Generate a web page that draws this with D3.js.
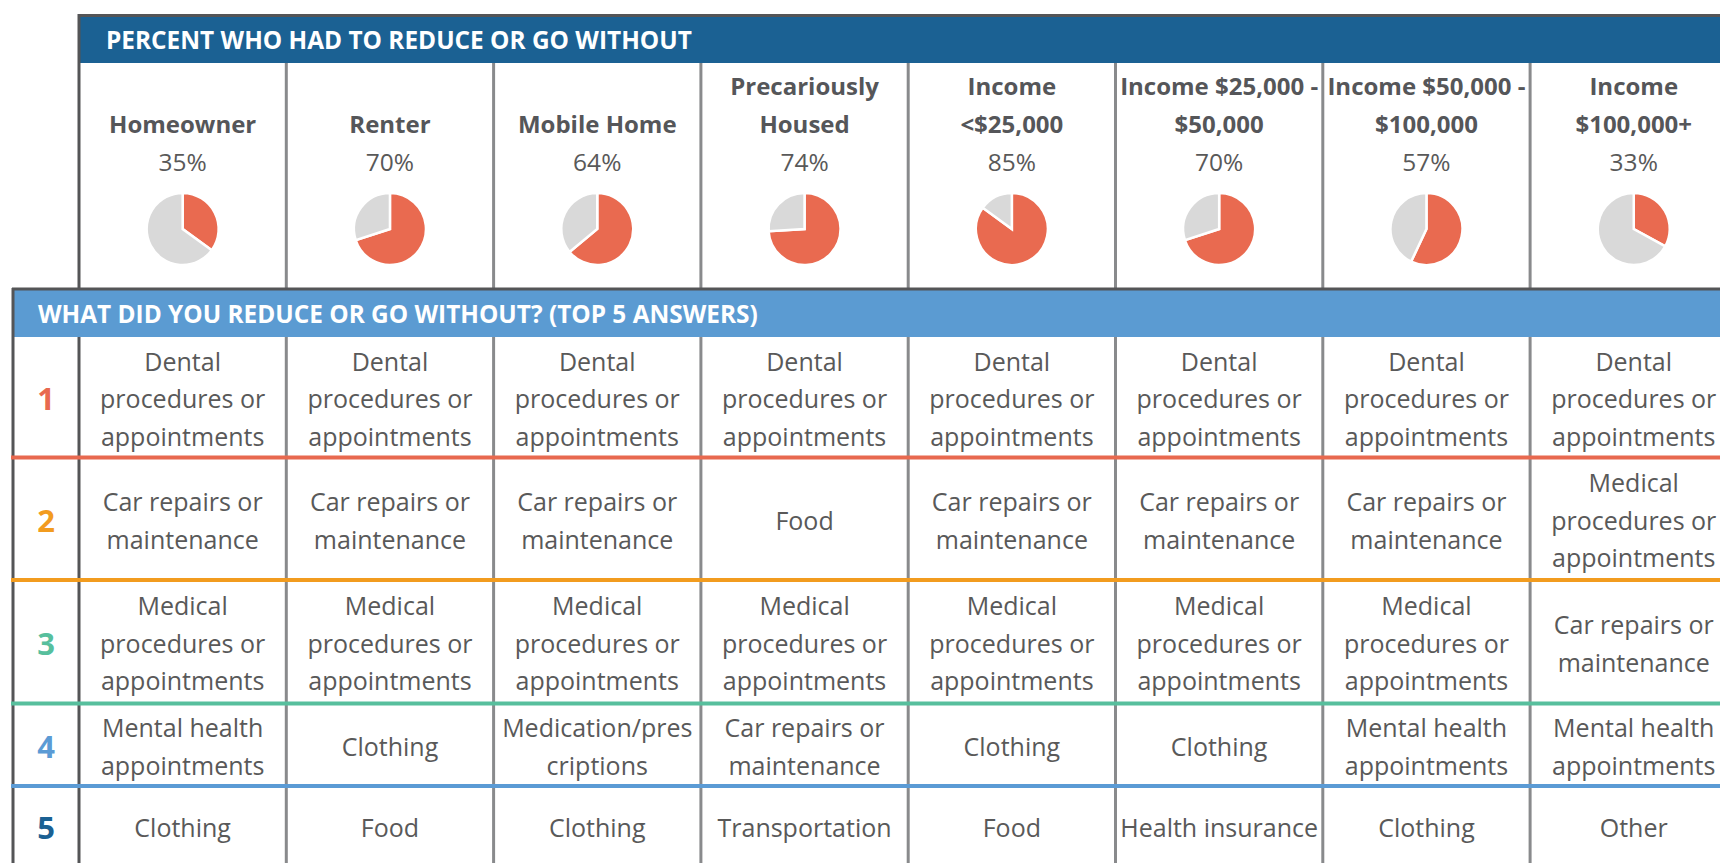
<!DOCTYPE html>
<html><head><meta charset="utf-8">
<script src="https://cdn.jsdelivr.net/npm/d3@7"></script>
<style>html,body{margin:0;padding:0;background:#fff;overflow:hidden}svg{display:block}</style>
</head><body><svg id="c" width="1720" height="863"></svg>
<script>
// ---------- DATA ----------
const title1 = "PERCENT WHO HAD TO REDUCE OR GO WITHOUT";
const title2 = "WHAT DID YOU REDUCE OR GO WITHOUT? (TOP 5 ANSWERS)";
const groups = ["Homeowner", "Renter", "Mobile Home", "Precariously|Housed", "Income|<$25,000",
                "Income $25,000 -|$50,000", "Income $50,000 -|$100,000", "Income|$100,000+"];
const percents = [35, 70, 64, 74, 85, 70, 57, 33];
const ranks = [1, 2, 3, 4, 5];
const answersRank1 = ["Dental|procedures or|appointments", "Dental|procedures or|appointments", "Dental|procedures or|appointments", "Dental|procedures or|appointments",
                      "Dental|procedures or|appointments", "Dental|procedures or|appointments", "Dental|procedures or|appointments", "Dental|procedures or|appointments"];
const answersRank2 = ["Car repairs or|maintenance", "Car repairs or|maintenance", "Car repairs or|maintenance", "Food",
                      "Car repairs or|maintenance", "Car repairs or|maintenance", "Car repairs or|maintenance", "Medical|procedures or|appointments"];
const answersRank3 = ["Medical|procedures or|appointments", "Medical|procedures or|appointments", "Medical|procedures or|appointments", "Medical|procedures or|appointments",
                      "Medical|procedures or|appointments", "Medical|procedures or|appointments", "Medical|procedures or|appointments", "Car repairs or|maintenance"];
const answersRank4 = ["Mental health|appointments", "Clothing", "Medication/pres|criptions", "Car repairs or|maintenance",
                      "Clothing", "Clothing", "Mental health|appointments", "Mental health|appointments"];
const answersRank5 = ["Clothing", "Food", "Clothing", "Transportation", "Food", "Health insurance", "Clothing", "Other"];
const answers = [answersRank1, answersRank2, answersRank3, answersRank4, answersRank5];

// ---------- STYLE / LAYOUT ----------
const W = 1720, H = 863;
const colW = 207.3, colX0 = 79;
const rankColors = ["#e8694f", "#f29c1f", "#57bf9d", "#5b9bd5", "#1b6193"];
const darkBlue = "#1b6193", lightBlue = "#5b9bd2";
const red = "#e96a50", grey = "#d9d9d9";
const textCol = "#595959", headCol = "#555659";
const borderCol = "#545557", divCol = "#898a8c";
const rowEdges = [337, 457.5, 580, 703.5, 786, 866];
const font = "'Open Sans', 'Noto Sans', sans-serif";

const svg = d3.select("#c");
const x = d3.scaleBand().domain(groups).range([colX0, colX0 + colW * groups.length]).padding(0);
const yRow = d3.scaleOrdinal().domain(ranks).range(ranks.map((r, i) => [rowEdges[i], rowEdges[i + 1]]));

// ---------- TOP SECTION ----------
svg.append("rect").attr("x", 80).attr("y", 16).attr("width", W - 80).attr("height", 47).attr("fill", darkBlue);
svg.append("text").attr("x", 106).attr("y", 39).attr("dominant-baseline", "central")
  .attr("fill", "#fff").attr("font-family", font).attr("font-weight", 700).attr("font-size", 24.4)
  .text(title1);

// column dividers top
svg.selectAll("line.dtop").data(groups.slice(1)).enter().append("line")
  .attr("x1", d => x(d)).attr("x2", d => x(d)).attr("y1", 63).attr("y2", 289)
  .attr("stroke", divCol).attr("stroke-width", 3);

// group headers
const lineH = 37.7;
groups.forEach((g, i) => {
  const lines = g.split("|");
  const cx = x(g) + x.bandwidth() / 2;
  lines.forEach((ln, j) => {
    svg.append("text").attr("x", cx).attr("y", 123 - (lines.length - 1 - j) * lineH)
      .attr("text-anchor", "middle").attr("dominant-baseline", "central")
      .attr("fill", headCol).attr("font-family", font).attr("font-weight", 700).attr("font-size", 24)
      .text(ln);
  });
  svg.append("text").attr("x", cx).attr("y", 161)
    .attr("text-anchor", "middle").attr("dominant-baseline", "central")
    .attr("fill", textCol).attr("font-family", font).attr("font-size", 24.5)
    .text(percents[i] + "%");
  const pie = d3.pie().sort(null)([percents[i], 100 - percents[i]]);
  const arc = d3.arc().innerRadius(0).outerRadius(36);
  svg.append("g").attr("transform", `translate(${cx},229)`)
    .selectAll("path").data(pie).enter().append("path")
    .attr("d", arc).attr("fill", (d, k) => k === 0 ? red : grey)
    .attr("stroke", "#fff").attr("stroke-width", 2.5).attr("stroke-linejoin", "miter");
});

// top borders
svg.append("line").attr("x1", 78).attr("x2", W).attr("y1", 15.5).attr("y2", 15.5).attr("stroke", borderCol).attr("stroke-width", 3);
svg.append("line").attr("x1", 79).attr("x2", 79).attr("y1", 14).attr("y2", 290).attr("stroke", borderCol).attr("stroke-width", 3);

// ---------- BOTTOM SECTION ----------
svg.append("rect").attr("x", 14).attr("y", 290).attr("width", W - 14).attr("height", 47).attr("fill", lightBlue);
svg.append("text").attr("x", 38).attr("y", 313.5).attr("dominant-baseline", "central")
  .attr("fill", "#fff").attr("font-family", font).attr("font-weight", 700).attr("font-size", 24.4)
  .text(title2);

svg.selectAll("line.dbot").data(groups.slice(1)).enter().append("line")
  .attr("x1", d => x(d)).attr("x2", d => x(d)).attr("y1", 337).attr("y2", H)
  .attr("stroke", divCol).attr("stroke-width", 3);

svg.append("line").attr("x1", 12).attr("x2", W).attr("y1", 289).attr("y2", 289).attr("stroke", borderCol).attr("stroke-width", 3);
svg.append("line").attr("x1", 13).attr("x2", 13).attr("y1", 288).attr("y2", H).attr("stroke", borderCol).attr("stroke-width", 3);
svg.append("line").attr("x1", 79).attr("x2", 79).attr("y1", 337).attr("y2", H).attr("stroke", borderCol).attr("stroke-width", 3);

// rows
ranks.forEach((r, i) => {
  const [y0, y1] = yRow(r);
  const cy = (y0 + y1) / 2 + 1;
  svg.append("text").attr("x", 46).attr("y", cy)
    .attr("text-anchor", "middle").attr("dominant-baseline", "central")
    .attr("fill", rankColors[i]).attr("font-family", font).attr("font-weight", 700).attr("font-size", 31)
    .text(r);
  answers[i].forEach((a, c) => {
    const lines = a.split("|");
    const cx = x(groups[c]) + x.bandwidth() / 2;
    lines.forEach((ln, j) => {
      svg.append("text").attr("x", cx).attr("y", cy + (j - (lines.length - 1) / 2) * lineH)
        .attr("text-anchor", "middle").attr("dominant-baseline", "central")
        .attr("fill", textCol).attr("font-family", font).attr("font-size", 25)
        .text(ln);
    });
  });
  if (i < ranks.length - 1) {
    svg.append("line").attr("x1", 11).attr("x2", W).attr("y1", y1).attr("y2", y1)
      .attr("stroke", rankColors[i]).attr("stroke-width", 4);
  }
});
</script></body></html>
